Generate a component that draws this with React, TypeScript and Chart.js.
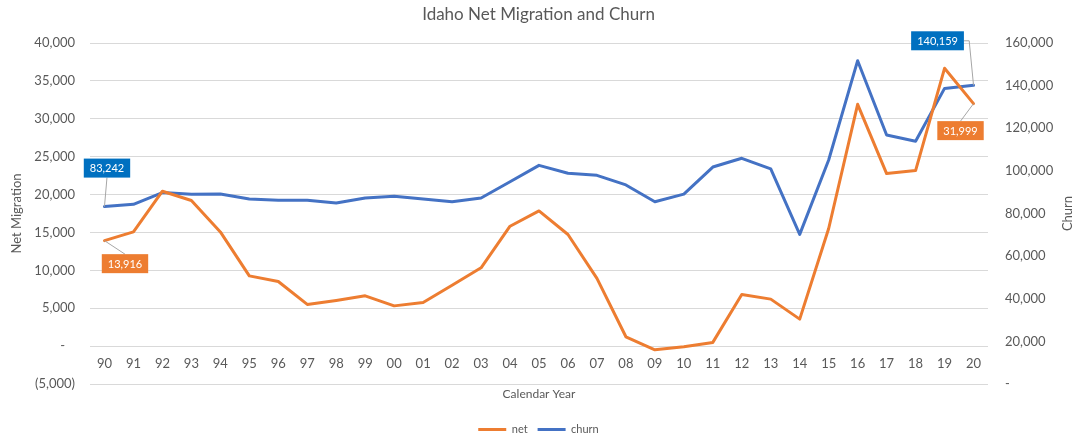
import React, { useEffect, useRef } from 'react';
import { Chart, registerables } from 'chart.js';

Chart.register(...registerables);

const years = ['90', '91', '92', '93', '94', '95', '96', '97', '98', '99', '00', '01', '02', '03', '04', '05', '06', '07', '08', '09', '10', '11', '12', '13', '14', '15', '16', '17', '18', '19', '20'];

const netValues = [13916, 15070, 20440, 19210, 15070, 9270, 8530, 5500, 6030, 6640, 5310, 5760, 8040, 10330, 15820, 17840, 14730, 8930, 1230, -490, -90, 490, 6820, 6200, 3560, 15520, 31910, 22770, 23170, 36660, 31999];

const churnValues = [83242, 84300, 89800, 89000, 89150, 86800, 86200, 86200, 84900, 87300, 88100, 86800, 85500, 87300, 94900, 102600, 98900, 97900, 93400, 85500, 89100, 101800, 105900, 100900, 70200, 105100, 151700, 116800, 113900, 138700, 140159];

const leftAxisRange = [-5000, 40000, 5000];
const rightAxisRange = [0, 160000, 20000];

const TITLE = 'Idaho Net Migration and Churn';
const LEFT_TITLE = 'Net Migration';
const RIGHT_TITLE = 'Churn';
const X_TITLE = 'Calendar Year';
const SERIES_NAMES = ['net', 'churn'];

const NET_COLOR = '#ED7D31';
const CHURN_COLOR = '#4472C4';
const NET_LABEL_BG = '#ED7D31';
const CHURN_LABEL_BG = '#0070C0';
const TEXT_COLOR = '#595959';
const GRID_COLOR = '#D9D9D9';
const FONT = 'Lato';

// callouts: dataset index, point index, offset of box centre, background
const callouts = [
  { dataset: 1, index: 0, dx: 2.5, dy: -38.5, bg: CHURN_LABEL_BG },
  { dataset: 0, index: 0, dx: 20.5, dy: 23, bg: NET_LABEL_BG },
  { dataset: 1, index: 30, dx: -36, dy: -44.5, bg: CHURN_LABEL_BG },
  { dataset: 0, index: 30, dx: -13, dy: 27, bg: NET_LABEL_BG },
];

const fmt = (v: number) => Math.round(v).toLocaleString('en-US');

const leftTick = (v: any) => {
  const n = Number(v);
  if (n === 0) return '-   ';
  if (n < 0) return '(' + fmt(-n) + ')';
  return fmt(n);
};
const rightTick = (v: any) => {
  const n = Number(v);
  if (n === 0) return '-';
  return fmt(n);
};

const calloutPlugin = {
  id: 'callouts',
  afterDatasetsDraw(chart: any) {
    const ctx = chart.ctx;
    callouts.forEach((c) => {
      const meta = chart.getDatasetMeta(c.dataset);
      const pt = meta.data[c.index];
      if (!pt) return;
      const value = chart.data.datasets[c.dataset].data[c.index];
      const text = fmt(value);
      ctx.save();
      ctx.font = `11px ${FONT}`;
      const tw = ctx.measureText(text).width;
      const w = tw + 12;
      const h = 19;
      const cx = pt.x + c.dx;
      const cy = pt.y + c.dy;
      const bx = cx - w / 2;
      const by = cy - h / 2;
      ctx.strokeStyle = '#A6A6A6';
      ctx.lineWidth = 1;
      ctx.beginPath();
      ctx.moveTo(pt.x, pt.y);
      if (pt.x >= bx && pt.x <= bx + w) {
        ctx.lineTo(cx, pt.y < by ? by : by + h);
      } else {
        const sx = pt.x > bx + w ? bx + w : bx;
        ctx.lineTo(sx + (pt.x - sx) * 0.55, cy);
        ctx.lineTo(sx, cy);
      }
      ctx.stroke();
      ctx.fillStyle = c.bg;
      ctx.fillRect(bx, by, w, h);
      ctx.fillStyle = '#FFFFFF';
      ctx.textAlign = 'center';
      ctx.textBaseline = 'middle';
      ctx.fillText(text, cx, cy + 0.5);
      ctx.restore();
    });
  },
  afterDraw(chart: any) {
    const ctx = chart.ctx;
    const area = chart.chartArea;
    ctx.save();
    ctx.font = `13px ${FONT}`;
    ctx.fillStyle = TEXT_COLOR;
    ctx.textAlign = 'center';
    ctx.textBaseline = 'middle';
    ctx.translate(1068, (area.top + area.bottom) / 2);
    ctx.rotate(-Math.PI / 2);
    ctx.fillText(RIGHT_TITLE, 0, 0);
    ctx.restore();
  },
};

export default function App() {
  const canvasRef = useRef<HTMLCanvasElement | null>(null);

  useEffect(() => {
    if (!canvasRef.current) return;
    const chart = new Chart(canvasRef.current, {
      type: 'line',
      data: {
        labels: years,
        datasets: [
          {
            label: SERIES_NAMES[0],
            data: netValues,
            borderColor: NET_COLOR,
            backgroundColor: NET_COLOR,
            borderWidth: 3,
            pointRadius: 0,
            tension: 0,
            borderJoinStyle: 'round',
            borderCapStyle: 'round',
            yAxisID: 'y',
            xAxisID: 'x',
          },
          {
            label: SERIES_NAMES[1],
            data: churnValues,
            borderColor: CHURN_COLOR,
            backgroundColor: CHURN_COLOR,
            borderWidth: 3,
            pointRadius: 0,
            tension: 0,
            borderJoinStyle: 'round',
            borderCapStyle: 'round',
            yAxisID: 'y1',
            xAxisID: 'x',
          },
        ],
      },
      options: {
        responsive: false,
        animation: false,
        devicePixelRatio: 1,
        layout: { padding: 0 },
        plugins: {
          title: {
            display: true,
            text: TITLE,
            color: TEXT_COLOR,
            font: { family: FONT, size: 17, weight: 'normal' },
            padding: { top: 4.8, bottom: 17.8 },
          },
          legend: {
            display: true,
            position: 'bottom',
            maxHeight: 22,
            labels: {
              color: TEXT_COLOR,
              font: { family: FONT, size: 11 },
              boxWidth: 28,
              boxHeight: 3,
              padding: 10,
              generateLabels: (chart: any) =>
                Chart.defaults.plugins.legend.labels.generateLabels(chart).map((l: any) => ({
                  ...l,
                  fillStyle: l.strokeStyle,
                  lineWidth: 0,
                  strokeStyle: 'rgba(0,0,0,0)',
                })),
            },
          },
          tooltip: { enabled: false },
        },
        scales: {
          x: {
            type: 'category',
            offset: true,
            position: { y: 0 } as any,
            grid: { display: false, drawTicks: false, offset: true },
            border: { display: false },
            ticks: {
              color: TEXT_COLOR,
              font: { family: FONT, size: 13 },
              padding: 10,
              maxRotation: 0,
              autoSkip: false,
            },
            afterFit: (s: any) => {
              s.height = 0;
            },
          },
          x2: {
            type: 'category',
            offset: true,
            position: 'bottom',
            labels: years,
            grid: { display: false, drawTicks: false },
            border: { display: false },
            ticks: { display: false },
            title: {
              display: true,
              text: X_TITLE,
              color: TEXT_COLOR,
              font: { family: FONT, size: 12 },
              padding: { top: 0, bottom: 12.8 },
            },
            afterFit: (s: any) => {
              s.height = 30;
            },
          },
          y: {
            type: 'linear',
            position: 'left',
            min: leftAxisRange[0],
            max: leftAxisRange[1],
            grid: { color: GRID_COLOR, lineWidth: 1, drawTicks: false },
            border: { display: false },
            ticks: {
              stepSize: leftAxisRange[2],
              color: TEXT_COLOR,
              font: { family: FONT, size: 13 },
              padding: 15,
              callback: leftTick,
            },
            title: {
              display: true,
              text: LEFT_TITLE,
              color: TEXT_COLOR,
              font: { family: FONT, size: 13 },
              padding: { top: 9.2, bottom: 0 },
            },
            afterFit: (s: any) => {
              s.width = 90;
            },
          },
          y1: {
            type: 'linear',
            position: 'right',
            min: rightAxisRange[0],
            max: rightAxisRange[1],
            grid: { drawOnChartArea: false, drawTicks: false },
            border: { display: false },
            ticks: {
              stepSize: rightAxisRange[2],
              color: TEXT_COLOR,
              font: { family: FONT, size: 13 },
              padding: 17,
              callback: rightTick,
            },
            afterFit: (s: any) => {
              s.width = 89;
            },
          },
        },
      },
      plugins: [calloutPlugin],
    } as any);
    return () => chart.destroy();
  }, []);

  return (
    <div style={{ position: 'absolute', left: 0, top: 0, width: 1077, height: 436, background: '#FFFFFF' }}>
      <canvas ref={canvasRef} width={1077} height={436} style={{ display: 'block', width: 1077, height: 436 }} />
    </div>
  );
}
